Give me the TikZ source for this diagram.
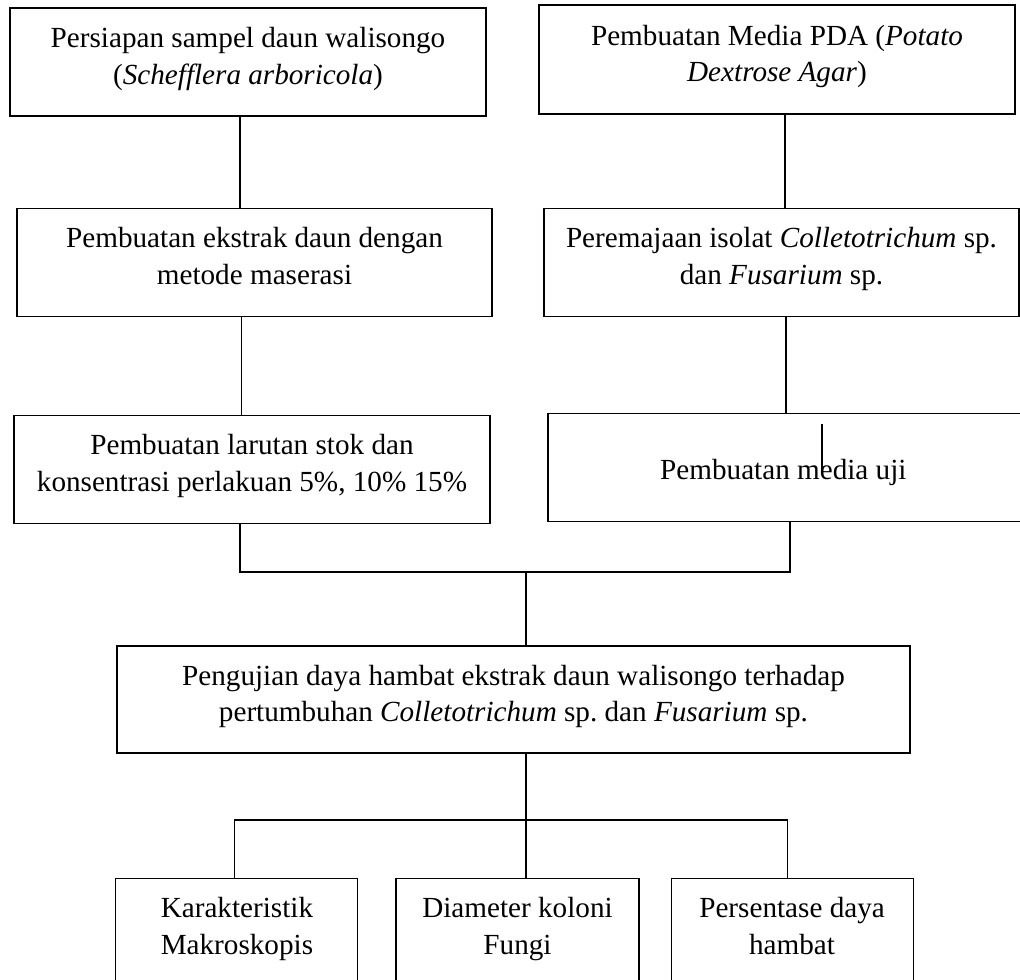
\documentclass[tikz,border=0pt]{standalone}
\usepackage{fontspec}
\setmainfont{Liberation Serif}
\usetikzlibrary{positioning, calc}
\frenchspacing
\tikzset{
  stage/.style={draw, line width=0.6pt, align=center, inner sep=0pt,
    font=\fontsize{16.6}{21}\selectfont, minimum height=21.6mm,
    text height=29pt, text depth=3.4pt},
  link/.style={line width=0.6pt}
}

\begin{document}
\begin{tikzpicture}[x=0.2mm, y=-0.2mm]
    \useasboundingbox (0,0) rectangle (1020,980);
    \node[stage, minimum width=95.2mm] (sampel) at (248,62) {
      Persiapan sampel daun walisongo\\(\textit{Schefflera arboricola})
    };
    \node[stage, minimum width=95.2mm, minimum height=21.8mm] (pda) at (777,59.5) {
      Pembuatan Media PDA (\textit{Potato}\\\textit{Dextrose Agar})
    };
    \node[stage, minimum width=95mm, below=18.2mm of sampel, xshift=1.3mm] (ekstrak) {
      Pembuatan ekstrak daun dengan\\metode maserasi
    };
    \node[stage, minimum width=95mm, below=18.6mm of pda, xshift=0.9mm] (isolat) {
      Peremajaan isolat \textit{Colletotrichum} sp.\\dan \textit{Fusarium} sp.
    };
    \node[stage, minimum width=95.2mm, below=19.6mm of ekstrak, xshift=-0.5mm] (larutan) {
      Pembuatan larutan stok dan\\konsentrasi perlakuan 5\%, 10\% 15\%
    };
    \node[stage, minimum width=95.6mm, below=19.2mm of isolat, xshift=1.1mm,
          text height=16.6pt, text depth=3pt] (mediauji) {
      Pembuatan media uji
    };
    \node[stage, minimum width=158.6mm, minimum height=21.4mm] (uji) at (513.5,699.5) {
      Pengujian daya hambat ekstrak daun walisongo terhadap\\pertumbuhan \textit{Colletotrichum} sp. dan \textit{Fusarium} sp.
    };
    \node[stage, minimum width=48.6mm, below=24.8mm of uji, xshift=0.8mm] (diameter) {
      Diameter koloni\\Fungi
    };
    \node[stage, minimum width=48.4mm, left=7.4mm of diameter] (makro) {
      Karakteristik\\Makroskopis
    };
    \node[stage, minimum width=48.4mm, right=6.2mm of diameter] (persen) {
      Persentase daya\\hambat
    };

    \coordinate (merge) at (526,572);
    \coordinate (split) at (526,820);
    \draw[link] ([xshift=-1.6mm]sampel.south) -- ([xshift=-1.6mm]sampel.south |- ekstrak.north);
    \draw[link] ([xshift=-2.6mm]ekstrak.south) -- ([xshift=-2.6mm]ekstrak.south |- larutan.north);
    \draw[link] ([xshift=1.6mm]pda.south) -- ([xshift=1.6mm]pda.south |- isolat.north);
    \draw[link] ([xshift=0.9mm]isolat.south) -- ([xshift=0.9mm]isolat.south |- mediauji.north);
    \draw[link] ([xshift=-2.4mm]larutan.south) |- (merge) -| ([xshift=0.6mm]mediauji.south);
    \draw[link] (merge) -- (merge |- uji.north);
    \draw[link] (split |- uji.south) -- (split);
    \draw[link] ([xshift=-0.4mm]makro.north) |- (split) -| ([xshift=-1mm]persen.north);
    \draw[link] (split) -- (split |- diameter.north);
    \draw[link] ([xshift=7mm, yshift=-2.2mm]mediauji.north) -- ++(0,46);
  \end{tikzpicture}
\end{document}
